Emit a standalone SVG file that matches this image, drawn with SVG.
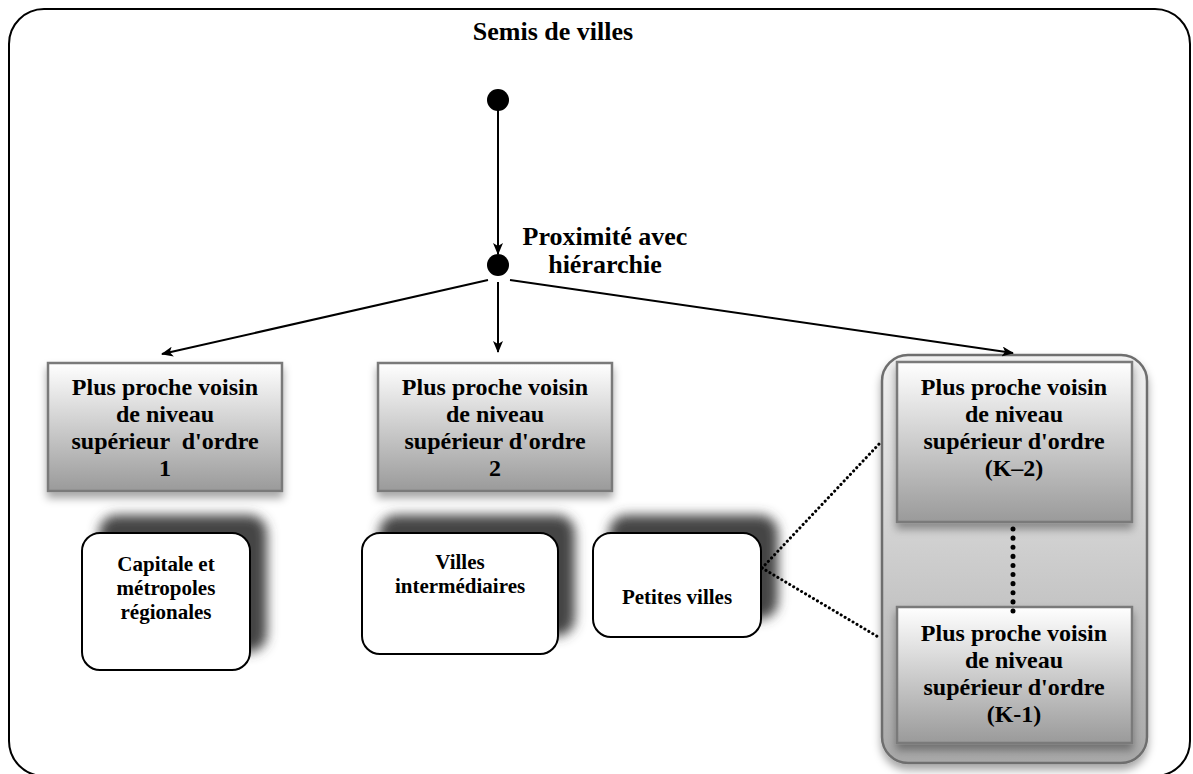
<svg xmlns="http://www.w3.org/2000/svg" width="1193" height="774" viewBox="0 0 1193 774">
<style>
text{font-family:"Liberation Serif","Times New Roman",serif;font-weight:bold;fill:#000;text-anchor:middle}
.big{font-size:24px}
.lab{font-size:26px}
.small{font-size:21px}
.grad{fill:url(#g1);stroke:#7a7a7a;stroke-width:2.5}
.city{fill:#fff;stroke:#000;stroke-width:2}
.conn{stroke:#000;stroke-width:2;fill:none}
.dot{stroke:#000;stroke-width:3;stroke-dasharray:0.1 4.5;stroke-linecap:round;fill:none}
.vdot{stroke:#000;stroke-width:5;stroke-dasharray:0.1 9;stroke-linecap:round;fill:none}
</style>
<defs>
<linearGradient id="g1" x1="0" y1="0" x2="0" y2="1">
<stop offset="0" stop-color="#ffffff"/>
<stop offset="1" stop-color="#9a9a9a"/>
</linearGradient>
<linearGradient id="g2" x1="0" y1="0" x2="0" y2="1">
<stop offset="0" stop-color="#f2f2f2"/>
<stop offset="1" stop-color="#a8a8a8"/>
</linearGradient>
<filter id="sh" x="-20%" y="-20%" width="140%" height="150%">
<feDropShadow dx="0" dy="6" stdDeviation="4" flood-color="#000" flood-opacity="0.35"/>
</filter>
<filter id="sh2" x="-30%" y="-30%" width="160%" height="160%">
<feGaussianBlur stdDeviation="6"/>
</filter>
<marker id="arr" viewBox="0 0 12 10" refX="11" refY="5" markerWidth="12" markerHeight="10" markerUnits="userSpaceOnUse" orient="auto">
<path d="M0,0 L12,5 L0,10 L3,5 z" fill="#000"/>
</marker>
</defs>

<rect id="frame" x="9" y="9" width="1181" height="767" rx="35" ry="35" fill="#fff" stroke="#000" stroke-width="2"/>
<text id="title" x="553" y="40" style="font-size:26px">Semis de villes</text>

<g id="start">
<circle cx="498" cy="100" r="11" fill="#000"/>
</g>
<g id="junction">
<circle cx="498" cy="265" r="11" fill="#000"/>
<text class="lab" x="605" y="245">Proximité avec</text>
<text class="lab" x="605" y="273">hiérarchie</text>
</g>

<g id="voisin1">
<rect class="grad" x="48" y="363" width="234" height="128" filter="url(#sh)"/>
<text class="big" x="165" y="395">Plus proche voisin</text>
<text class="big" x="165" y="422">de niveau</text>
<text class="big" x="165" y="449" xml:space="preserve">supérieur  d'ordre</text>
<text class="big" x="165" y="476">1</text>
</g>

<g id="voisin2">
<rect class="grad" x="378" y="363" width="234" height="128" filter="url(#sh)"/>
<text class="big" x="495" y="395">Plus proche voisin</text>
<text class="big" x="495" y="422">de niveau</text>
<text class="big" x="495" y="449">supérieur d'ordre</text>
<text class="big" x="495" y="476">2</text>
</g>

<g id="groupeK">
<rect x="882" y="355" width="265" height="408" rx="26" ry="26" fill="url(#g2)" stroke="#6e6e6e" stroke-width="2.5" filter="url(#sh)"/>
</g>

<g id="voisinK2">
<rect class="grad" x="897" y="362" width="235" height="160" filter="url(#sh)"/>
<text class="big" x="1014" y="395">Plus proche voisin</text>
<text class="big" x="1014" y="422">de niveau</text>
<text class="big" x="1014" y="449">supérieur d'ordre</text>
<text class="big" x="1014" y="476">(K–2)</text>
</g>

<g id="voisinK1">
<rect class="grad" x="897" y="607" width="235" height="136" filter="url(#sh)"/>
<text class="big" x="1014" y="641">Plus proche voisin</text>
<text class="big" x="1014" y="668">de niveau</text>
<text class="big" x="1014" y="695">supérieur d'ordre</text>
<text class="big" x="1014" y="722">(K-1)</text>
</g>

<g id="capitale">
<rect x="99" y="515" width="168" height="137" rx="18" fill="#444" filter="url(#sh2)"/>
<rect class="city" x="82" y="533" width="168" height="137" rx="18"/>
<text class="small" x="166" y="571">Capitale et</text>
<text class="small" x="166" y="595">métropoles</text>
<text class="small" x="166" y="619">régionales</text>
</g>

<g id="intermediaires">
<rect x="379" y="515" width="196" height="121" rx="18" fill="#444" filter="url(#sh2)"/>
<rect class="city" x="362" y="533" width="196" height="121" rx="18"/>
<text class="small" x="460" y="569">Villes</text>
<text class="small" x="460" y="593">intermédiaires</text>
</g>

<g id="petites">
<rect x="609" y="515" width="169" height="104" rx="18" fill="#444" filter="url(#sh2)"/>
<rect class="city" x="593" y="533" width="168" height="104" rx="18"/>
<text class="small" x="677" y="604">Petites villes</text>
</g>

<g id="connectors">
<line class="conn" x1="498" y1="108" x2="498" y2="254" marker-end="url(#arr)"/>
<line class="conn" x1="488" y1="280" x2="162" y2="354" marker-end="url(#arr)"/>
<line class="conn" x1="498" y1="282" x2="498" y2="352" marker-end="url(#arr)"/>
<line class="conn" x1="510" y1="280" x2="1013" y2="353" marker-end="url(#arr)"/>
<line class="dot" x1="762" y1="568" x2="880" y2="443"/>
<line class="dot" x1="762" y1="568" x2="880" y2="638"/>
<line class="vdot" x1="1013" y1="529" x2="1013" y2="612"/>
</g>
</svg>
